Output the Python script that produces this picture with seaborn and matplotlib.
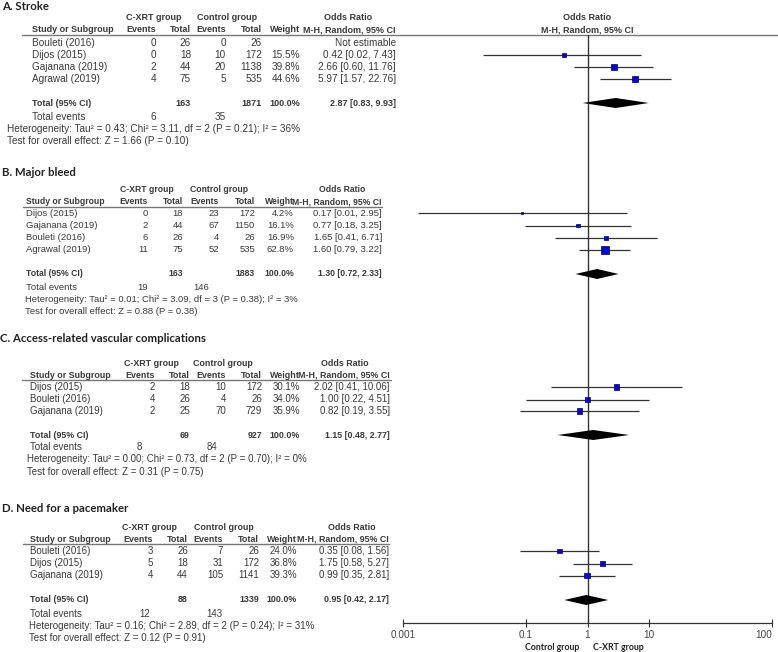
import numpy as np
import pandas as pd
import matplotlib
matplotlib.use("Agg")
import matplotlib.pyplot as plt
import seaborn as sns
from matplotlib.ticker import NullLocator, FixedLocator, FixedFormatter

# ------------------------------------------------------------------ data
# A. Stroke
a_studies = ["Bouleti (2016)", "Dijos (2015)", "Gajanana (2019)", "Agrawal (2019)"]
a_xrt_events = [0, 0, 2, 4]
a_xrt_total = [26, 18, 44, 75]
a_ctrl_events = [0, 10, 20, 5]
a_ctrl_total = [26, 172, 1138, 535]
a_weight = [np.nan, 15.5, 39.8, 44.6]
a_or = [np.nan, 0.42, 2.66, 5.97]
a_lo = [np.nan, 0.02, 0.60, 1.57]
a_hi = [np.nan, 7.43, 11.76, 22.76]
a_pooled = [2.87, 0.83, 9.93]
a_sum_total = [163, 1871]
a_sum_weight = 100.0
a_sum_events = [6, 35]
a_het = [0.43, 3.11, 2, 0.21, 36]      # Tau2, Chi2, df, P, I2
a_effect = [1.66, 0.10]                # Z, P

# B. Major bleed
b_studies = ["Dijos (2015)", "Gajanana (2019)", "Bouleti (2016)", "Agrawal (2019)"]
b_xrt_events = [0, 2, 6, 11]
b_xrt_total = [18, 44, 26, 75]
b_ctrl_events = [23, 67, 4, 52]
b_ctrl_total = [172, 1150, 26, 535]
b_weight = [4.2, 16.1, 16.9, 62.8]
b_or = [0.17, 0.77, 1.65, 1.60]
b_lo = [0.01, 0.18, 0.41, 0.79]
b_hi = [2.95, 3.25, 6.71, 3.22]
b_pooled = [1.30, 0.72, 2.33]
b_sum_total = [163, 1883]
b_sum_weight = 100.0
b_sum_events = [19, 146]
b_het = [0.01, 3.09, 3, 0.38, 3]
b_effect = [0.88, 0.38]

# C. Access-related vascular complications
c_studies = ["Dijos (2015)", "Bouleti (2016)", "Gajanana (2019)"]
c_xrt_events = [2, 4, 2]
c_xrt_total = [18, 26, 25]
c_ctrl_events = [10, 4, 70]
c_ctrl_total = [172, 26, 729]
c_weight = [30.1, 34.0, 35.9]
c_or = [2.02, 1.00, 0.82]
c_lo = [0.41, 0.22, 0.19]
c_hi = [10.06, 4.51, 3.55]
c_pooled = [1.15, 0.48, 2.77]
c_sum_total = [69, 927]
c_sum_weight = 100.0
c_sum_events = [8, 84]
c_het = [0.00, 0.73, 2, 0.70, 0]
c_effect = [0.31, 0.75]

# D. Need for a pacemaker
d_studies = ["Bouleti (2016)", "Dijos (2015)", "Gajanana (2019)"]
d_xrt_events = [3, 5, 4]
d_xrt_total = [26, 18, 44]
d_ctrl_events = [7, 31, 105]
d_ctrl_total = [26, 172, 1141]
d_weight = [24.0, 36.8, 39.3]
d_or = [0.35, 1.75, 0.99]
d_lo = [0.08, 0.58, 0.35]
d_hi = [1.56, 5.27, 2.81]
d_pooled = [0.95, 0.42, 2.17]
d_sum_total = [88, 1339]
d_sum_weight = 100.0
d_sum_events = [12, 143]
d_het = [0.16, 2.89, 2, 0.24, 31]
d_effect = [0.12, 0.91]

section_titles = ["A. Stroke", "B. Major bleed",
                  "C. Access-related vascular complications",
                  "D. Need for a pacemaker"]
axis_ticks = [0.001, 0.1, 1, 10, 1000]
axis_labels = ["0.001", "0.1", "1", "10", "100"]
favours = ["Control group", "C-XRT group"]

sections = [
    dict(studies=a_studies, xe=a_xrt_events, xt=a_xrt_total, ce=a_ctrl_events, ct=a_ctrl_total,
         w=a_weight, est=a_or, lo=a_lo, hi=a_hi, pooled=a_pooled, tot=a_sum_total,
         tw=a_sum_weight, ev=a_sum_events, het=a_het, eff=a_effect),
    dict(studies=b_studies, xe=b_xrt_events, xt=b_xrt_total, ce=b_ctrl_events, ct=b_ctrl_total,
         w=b_weight, est=b_or, lo=b_lo, hi=b_hi, pooled=b_pooled, tot=b_sum_total,
         tw=b_sum_weight, ev=b_sum_events, het=b_het, eff=b_effect),
    dict(studies=c_studies, xe=c_xrt_events, xt=c_xrt_total, ce=c_ctrl_events, ct=c_ctrl_total,
         w=c_weight, est=c_or, lo=c_lo, hi=c_hi, pooled=c_pooled, tot=c_sum_total,
         tw=c_sum_weight, ev=c_sum_events, het=c_het, eff=c_effect),
    dict(studies=d_studies, xe=d_xrt_events, xt=d_xrt_total, ce=d_ctrl_events, ct=d_ctrl_total,
         w=d_weight, est=d_or, lo=d_lo, hi=d_hi, pooled=d_pooled, tot=d_sum_total,
         tw=d_sum_weight, ev=d_sum_events, het=d_het, eff=d_effect),
]

# ------------------------------------------------------------------ layout (pixels)
layouts = [
    dict(title=(2, 6), h1=17, h2=30, line=35, line_x=(22, 778), rows=[43, 55, 67, 79],
         total=103, events=117, het=129, test=141,
         cols=[32, 156, 191, 226, 262, 300, 396], grp=[154, 227, 348], evx=(156, 226),
         hetx=7, ppd=None, scale=1.0),
    dict(title=(2, 173), h1=190, h2=202, line=207, line_x=(23, 382), rows=[213, 225.5, 238, 250],
         total=274, events=288, het=300, test=312,
         cols=[26, 148, 183, 219, 255, 294, 382], grp=[147, 219, 342], evx=(148, 209),
         hetx=25, ppd=84.5, scale=0.95),
    dict(title=(0, 339), h1=363, h2=375, line=380, line_x=(22, 391), rows=[387, 399.5, 411],
         total=435, events=447.5, het=459.5, test=472,
         cols=[30, 155, 190, 226, 262, 300, 390], grp=[151, 223, 345], evx=(142, 217),
         hetx=27, ppd=94, scale=0.98),
    dict(title=(2, 508), h1=527, h2=539, line=544, line_x=(23, 389), rows=[551, 563.5, 575.5],
         total=600, events=614, het=626, test=638,
         cols=[30, 153, 188, 223, 259, 297, 389], grp=[149, 224, 352], evx=(150, 222),
         hetx=29, ppd=None, scale=0.98),
]

W, H = 778, 652
X_LEFT, X_RIGHT = 403, 772
X_ONE = (X_LEFT + X_RIGHT) / 2
Y_TOP, Y_AXIS = 35, 623

sns.set_theme(style="white")
plt.rcParams['font.family'] = ['Liberation Sans', 'DejaVu Sans']

TXT = '#3a3a3a'
FS = 7.2
FSH = 6.5
TITLE_FONT = ['Lato', 'DejaVu Sans']

fig = plt.figure(figsize=(W / 100, H / 100), dpi=100)
bg = fig.add_axes([0, 0, 1, 1])
bg.set_xlim(0, W)
bg.set_ylim(H, 0)
bg.axis('off')

ax_pos = [X_LEFT / W, 1 - Y_AXIS / H, (X_RIGHT - X_LEFT) / W, (Y_AXIS - Y_TOP) / H]


def fmt_or(e, l, h):
    return f"{e:.2f} [{l:.2f}, {h:.2f}]"


SCALE = [1.0]


def t(x, y, s, ha='left', bold=False, **kw):
    size = kw.pop('fontsize', (FSH if bold else FS) * SCALE[0])
    bg.text(x, y, s, ha=ha, va='center', fontsize=size,
            fontweight='bold' if bold else 'normal', color=kw.pop('color', TXT), **kw)


forest_axes = []
for i, (sec, lay) in enumerate(zip(sections, layouts)):
    SCALE[0] = lay['scale']
    c = lay['cols']
    bg.text(lay['title'][0], lay['title'][1], section_titles[i], ha='left', va='center',
            fontsize=8.2, fontweight='bold', family=TITLE_FONT, color='#222222')
    t(lay['grp'][0], lay['h1'], "C-XRT group", ha='center', bold=True)
    t(lay['grp'][1], lay['h1'], "Control group", ha='center', bold=True)
    t(lay['grp'][2], lay['h1'], "Odds Ratio", ha='center', bold=True)
    t(c[0], lay['h2'], "Study or Subgroup", bold=True)
    for x, s in zip(c[1:], ["Events", "Total", "Events", "Total", "Weight", "M-H, Random, 95% CI"]):
        t(x, lay['h2'], s, ha='right', bold=True)
    bg.plot(lay['line_x'], [lay['line'], lay['line']], color='#777777', lw=1.0)

    for j, st in enumerate(sec['studies']):
        y = lay['rows'][j]
        t(c[0], y, st)
        t(c[1], y, str(sec['xe'][j]), ha='right')
        t(c[2], y, str(sec['xt'][j]), ha='right')
        t(c[3], y, str(sec['ce'][j]), ha='right')
        t(c[4], y, str(sec['ct'][j]), ha='right')
        if np.isnan(sec['w'][j]):
            t(c[6], y, "Not estimable", ha='right')
        else:
            t(c[5], y, f"{sec['w'][j]:.1f}%", ha='right')
            t(c[6], y, fmt_or(sec['est'][j], sec['lo'][j], sec['hi'][j]), ha='right')

    y = lay['total']
    t(c[0], y, "Total (95% CI)", bold=True)
    t(c[2], y, str(sec['tot'][0]), ha='right', bold=True)
    t(c[4], y, str(sec['tot'][1]), ha='right', bold=True)
    t(c[5], y, f"{sec['tw']:.1f}%", ha='right', bold=True)
    t(c[6], y, fmt_or(*sec['pooled']), ha='right', bold=True)
    t(c[0], lay['events'], "Total events")
    t(lay['evx'][0], lay['events'], str(sec['ev'][0]), ha='right')
    t(lay['evx'][1], lay['events'], str(sec['ev'][1]), ha='right')
    tau, chi, df, p, i2 = sec['het']
    t(lay['hetx'], lay['het'],
      f"Heterogeneity: Tau² = {tau:.2f}; Chi² = {chi:.2f}, df = {df} (P = {p:.2f}); I² = {i2}%")
    z, pz = sec['eff']
    t(lay['hetx'], lay['test'], f"Test for overall effect: Z = {z:.2f} (P = {pz:.2f})")

    ax = fig.add_axes(ax_pos)
    ax.patch.set_alpha(0)
    ax.set_xscale('log')
    ppd = lay['ppd']
    if ppd is None:
        ax.set_xlim(axis_ticks[0], axis_ticks[-1])
    else:
        ax.set_xlim(10 ** (-(X_ONE - X_LEFT) / ppd), 10 ** ((X_RIGHT - X_ONE) / ppd))
    ax.set_ylim(Y_AXIS, Y_TOP)
    for sp in ax.spines.values():
        sp.set_visible(False)
    ax.set_xticks([])
    ax.set_yticks([])
    ax.xaxis.set_minor_locator(NullLocator())

    dfp = pd.DataFrame({'est': sec['est'], 'lo': sec['lo'], 'hi': sec['hi'],
                        'w': sec['w'], 'y': lay['rows'][:len(sec['studies'])]}).dropna()
    ax.hlines(dfp['y'], dfp['lo'], dfp['hi'], color='#333333', lw=0.9, zorder=2)
    side_pt = 0.95 * np.sqrt(dfp['w'].to_numpy()) * 0.72
    sns.scatterplot(x=dfp['est'].to_numpy(), y=dfp['y'].to_numpy(), marker='s',
                    s=side_pt ** 2, color='#0808c8', edgecolor='#000070', linewidth=0.5,
                    ax=ax, legend=False, zorder=3)
    pe, pl, ph = sec['pooled']
    yt = lay['total']
    ax.fill([pl, pe, ph, pe], [yt, yt - 5, yt, yt + 5], color='black', zorder=3, lw=0)
    ax.set_xlabel('')
    ax.set_ylabel('')
    forest_axes.append(ax)

SCALE[0] = 1.0
main = forest_axes[0]
main.axvline(1, color='#333333', lw=1.0, zorder=1)
axb = forest_axes[3]
axb.spines['bottom'].set_visible(True)
axb.spines['bottom'].set_color('#333333')
axb.spines['bottom'].set_linewidth(0.9)
axb.xaxis.set_major_locator(FixedLocator(axis_ticks))
axb.xaxis.set_major_formatter(FixedFormatter(axis_labels))
axb.xaxis.set_minor_locator(NullLocator())
axb.tick_params(axis='x', which='major', direction='inout', length=6, width=0.8,
                colors='#333333', labelsize=7.2, labelcolor='#444444', pad=2, bottom=True)
fig.canvas.draw()
lbls = axb.get_xticklabels()
lbls[-1].set_ha('right')

t(X_ONE, layouts[0]['h1'], "Odds Ratio", ha='center', bold=True)
t(X_ONE, layouts[0]['h2'], "M-H, Random, 95% CI", ha='center', bold=True)

bg.text(552, 647, favours[0], ha='center', va='center', fontsize=6.3, fontweight='bold',
        family=TITLE_FONT, color='#222222')
bg.text(618, 647, favours[1], ha='center', va='center', fontsize=6.3, fontweight='bold',
        family=TITLE_FONT, color='#222222')

fig.savefig("out.png", dpi=100, facecolor='white')
